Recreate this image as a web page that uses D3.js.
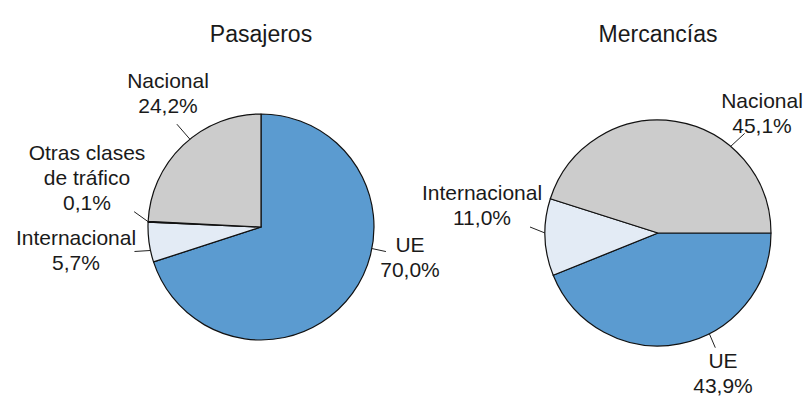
<!DOCTYPE html>
<html>
<head>
<meta charset="utf-8">
<script src="https://cdn.jsdelivr.net/npm/d3@7"></script>
<style>
    body { margin: 0; background: #fff; }
    svg text { font-family: "Liberation Sans", Arial, sans-serif; fill: #1a1a1a; }
</style>
</head>
<body>
<svg id="chart" width="807" height="402"></svg>
<script>
// values (percent)
const titles = ["Pasajeros", "Mercancías"];

const pasajerosCategories = ["UE", "Internacional", "Otras clases de tráfico", "Nacional"];
const pasajerosValues = [70.0, 5.7, 0.1, 24.2];
const pasajerosLabels = [["UE", "70,0%"], ["Internacional", "5,7%"], ["Otras clases", "de tráfico", "0,1%"], ["Nacional", "24,2%"]];

const mercanciasCategories = ["UE", "Internacional", "Nacional"];
const mercanciasValues = [43.9, 11.0, 45.1];
const mercanciasLabels = [["UE", "43,9%"], ["Internacional", "11,0%"], ["Nacional", "45,1%"]];

const colors = {
    "UE": "#5b9bd0",
    "Internacional": "#e3ebf5",
    "Otras clases de tráfico": "#8a8a8a",
    "Nacional": "#cccccc"
};

// layout: pie centres, start angle, and where each label / leader goes
const radius = 113;
const lineHeight = 25;
const pies = [
    {
        cx: 261, cy: 227, startAngle: 0,
        categories: pasajerosCategories, values: pasajerosValues, labels: pasajerosLabels,
        // leader angle (deg), leader end offset, text offset from centre (first baseline)
        place: [
            {angle: 101, dx: 14, dy: 3, tx: 149, ty: 25},
            {angle: 258, dx: -16, dy: 1, tx: -185, ty: 18},
            {angle: 272.7, dx: -14, dy: -10, tx: -174, ty: -67},
            {angle: 321, dx: -13, dy: -15, tx: -93, ty: -139}
        ]
    },
    {
        cx: 658, cy: 233, startAngle: 90,
        categories: mercanciasCategories, values: mercanciasValues, labels: mercanciasLabels,
        place: [
            {angle: 153, dx: 6, dy: 14, tx: 65, ty: 135},
            {angle: 270, dx: -15, dy: -6, tx: -176, ty: -33},
            {angle: 40, dx: 14, dy: -13, tx: 104, ty: -125}
        ]
    }
];

const svg = d3.select("#chart");
const rad = d => d * Math.PI / 180;

pies.forEach((p, i) => {
    const g = svg.append("g")
        .attr("transform", "translate(" + p.cx + "," + p.cy + ")");

    svg.append("text")
        .attr("x", p.cx)
        .attr("y", 42)
        .attr("text-anchor", "middle")
        .style("font-size", "23px")
        .text(titles[i]);

    const pie = d3.pie()
        .sort(null)
        .startAngle(rad(p.startAngle))
        .endAngle(rad(p.startAngle + 360));

    const arc = d3.arc()
        .innerRadius(0)
        .outerRadius(radius);

    const arcs = pie(p.values);

    g.selectAll("path.slice")
        .data(arcs)
        .enter().append("path")
        .attr("class", "slice")
        .attr("d", arc)
        .attr("fill", (d, j) => colors[p.categories[j]])
        .attr("stroke", "#111")
        .attr("stroke-width", 1.2)
        .attr("stroke-linejoin", "round");

    arcs.forEach((d, j) => {
        const pl = p.place[j];
        const a = rad(pl.angle);
        const x0 = Math.sin(a) * radius;
        const y0 = -Math.cos(a) * radius;

        g.append("line")
            .attr("x1", x0)
            .attr("y1", y0)
            .attr("x2", x0 + pl.dx)
            .attr("y2", y0 + pl.dy)
            .attr("stroke", "#222")
            .attr("stroke-width", 1);

        const t = g.append("text")
            .attr("text-anchor", "middle")
            .style("font-size", "21px");

        p.labels[j].forEach((line, k) => {
            t.append("tspan")
                .attr("x", pl.tx)
                .attr("y", pl.ty + k * lineHeight)
                .text(line);
        });
    });
});
</script>
</body>
</html>
